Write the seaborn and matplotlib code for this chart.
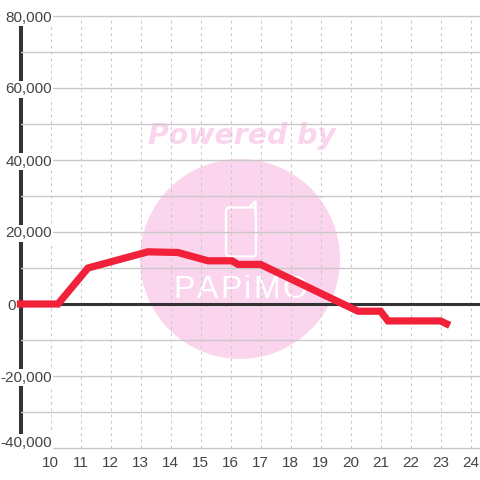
import matplotlib
matplotlib.use("Agg")
import matplotlib.pyplot as plt
import seaborn as sns
import pandas as pd
from matplotlib.patches import Circle, FancyBboxPatch
from matplotlib.lines import Line2D
from matplotlib.transforms import ScaledTranslation

hours = [9, 10.25, 11.25, 13.25, 14.25, 15.25, 16.05, 16.25, 17, 20.25, 21, 21.25, 23, 23.2]
balance = [0, 0, 10000, 14500, 14300, 12000, 12000, 11000, 11000, -2000, -2000, -4700, -4700, -5500]
x_ticks = list(range(10, 25))
y_major = [-40000, -20000, 0, 20000, 40000, 60000, 80000]
y_minor = [-30000, -10000, 10000, 30000, 50000, 70000]

W = 480.0
PINK = "#fbd5ee"
GRID = "#c8c8c8"
DARK = "#333333"
RED = "#f02138"

sns.set_theme(style="white", rc={"font.family": ["Liberation Sans", "DejaVu Sans"]})
fig = plt.figure(figsize=(4.8, 4.8), dpi=100, facecolor="white")
ax = fig.add_axes([20.5 / W, 1 - 448 / W, (W - 20.5) / W, (448 - 16) / W])
ax.patch.set_alpha(0)
ax.set_axisbelow(False)

# watermark, behind the axes
def fx(p): return p / W
def fy(p): return 1 - p / W
fig.add_artist(Circle((fx(240), fy(259)), 100 / W, transform=fig.transFigure, fc=PINK, ec="none", zorder=-5))
fig.text(fx(242), fy(136), "Powered by", family="DejaVu Sans", weight="bold", style="italic",
         fontsize=20.4, color=PINK, ha="center", va="center", zorder=-5)
fig.add_artist(FancyBboxPatch((fx(226), fy(256.5)), 30 / W, 49 / W, boxstyle="round,pad=0,rounding_size=0.008",
                              transform=fig.transFigure, fc="none", ec="white", lw=1.6, zorder=-4))
fig.add_artist(Line2D([fx(250), fx(255.5), fx(255.5)], [fy(207), fy(201.5), fy(215)],
                      transform=fig.transFigure, color="white", lw=1.8, zorder=-4))
for letter, px in zip("PAPiMO", [183.6, 207.2, 230.8, 247.3, 266.5, 294.6]):
    fig.text(fx(px), fy(290), letter, family="Liberation Sans", fontsize=23, color="white",
             ha="center", va="center", zorder=-4)

df = pd.DataFrame({"hour": hours, "balance": balance})
ax.axhline(0, color=DARK, lw=2.2, zorder=2.6)
sns.lineplot(data=df, x="hour", y="balance", ax=ax, color=RED, lw=5.2, errorbar=None,
             zorder=3, solid_joinstyle="miter", solid_capstyle="projecting", clip_on=False)

ax.set_xlim(9, 10 + (W - 50.5) / 30)
ax.set_ylim(-40000, 80000)
ax.set_xlabel("")
ax.set_ylabel("")
ax.set_xticks(x_ticks, [str(v) for v in x_ticks])
ax.set_yticks(y_major, [f"{v:,}" for v in y_major])
ax.set_yticks(y_minor, minor=True)

ax.grid(True, axis="y", which="both", color=GRID, lw=1.0, ls="-")
ax.grid(True, axis="x", which="major", color=GRID, lw=0.75, ls=(0, (2.5, 3.5)))
for tick in ax.xaxis.get_major_ticks() + ax.yaxis.get_major_ticks() + ax.yaxis.get_minor_ticks():
    tick.gridline.set_clip_on(False)

ax.tick_params(axis="x", which="both", length=0, pad=6, labelsize=11, labelcolor="#444444")
ax.tick_params(axis="y", which="both", length=0, labelsize=11, labelcolor="#444444")
ax.tick_params(axis="y", which="major", pad=-22.5)

for s in ["top", "right", "bottom"]:
    ax.spines[s].set_visible(False)
ax.spines["left"].set_color(DARK)
ax.spines["left"].set_linewidth(2.9)
ax.spines["left"].set_zorder(1)

for tick, val in zip(ax.yaxis.get_major_ticks(), y_major):
    lab = tick.label1
    lab.set_bbox(dict(fc="white", ec="none", pad=1.2))
    if val == 0:
        tick.set_pad(3)
        lab.set_bbox(None)
    if val == -40000:
        lab.set_transform(lab.get_transform() + ScaledTranslation(0, 6.5 / 100, fig.dpi_scale_trans))

fig.savefig("out.png", dpi=100)
